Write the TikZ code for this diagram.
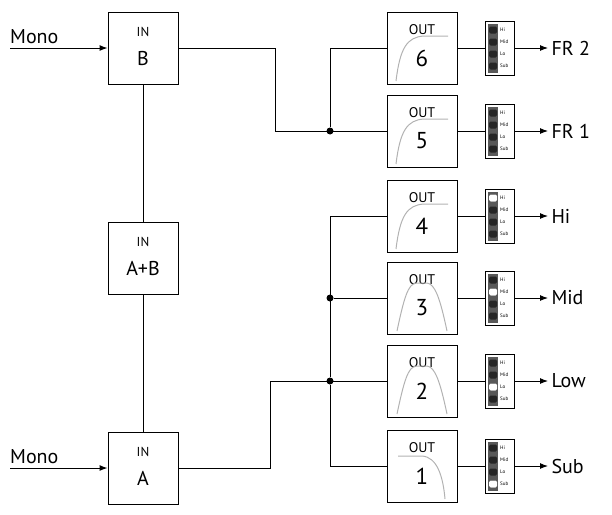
\documentclass[tikz,border=0pt]{standalone}
\usepackage{fontspec}
\setmainfont{PT Sans}
\usetikzlibrary{arrows.meta,calc}
\begin{document}
\begin{tikzpicture}[x=1pt,y=-1pt,
  box/.style={draw,line width=1pt,minimum width=70pt,minimum height=72pt,inner sep=0pt},
  meter/.style={draw,line width=1pt,minimum width=29pt,minimum height=54pt,inner sep=0pt},
  wire/.style={line width=1pt},
  arr/.style={line width=1pt,-{Latex[length=8pt,width=6pt]}},
  curve/.style={draw=gray!60,line width=1pt},
  lbl/.style={font=\fontsize{20}{20}\selectfont},
  dot/.style={circle,fill,inner sep=0pt,minimum size=7pt}]
\useasboundingbox (0,0) rectangle (612,514);
% inputs
\node[box] (B) at (143,48) {};
\node[box] (AB) at (143,258) {};
\node[box] (A) at (143,468) {};
\foreach \n/\t in {B/B,AB/A+B,A/A}{
  \node[font=\fontsize{13}{13}\selectfont] at ($(\n)+(0,-16)$) {IN};
  \node[font=\fontsize{20}{20}\selectfont] at ($(\n)+(0,10)$) {\t};
}
\draw[wire] (B) -- (AB) (AB) -- (A);
\coordinate (mb) at (10,48);
\coordinate (ma) at (10,468);
\draw[arr] (mb) -- (B.west);
\draw[arr] (ma) -- (A.west);
\node[lbl,anchor=south west,inner sep=0pt] at (10,44) {Mono};
\node[lbl,anchor=south west,inner sep=0pt] at (10,464) {Mono};
% outputs
\foreach \i/\y/\o in {6/48/FR 2,5/131/FR 1,4/216/Hi,3/298/Mid,2/381/Low,1/466/Sub}{
  \node[box] (o\i) at (422,\y) {};
  \node[font=\fontsize{14}{14}\selectfont] at ($(o\i)+(0,-18)$) {OUT};
  \node[font=\fontsize{23}{23}\selectfont] at ($(o\i)+(0,10)$) {\i};
  \node[meter] (m\i) at (500,\y) {};
  \coordinate (e\i) at (548,\y);
  \draw[wire] (o\i.east) -- (m\i.west);
  \draw[arr] (m\i.east) -- (e\i);
  \node[lbl,anchor=west] (t\i) at (e\i) {\o};
  \fill[gray!70!black] ($(m\i.north west)+(3,3)$) rectangle ($(m\i.south west)+(13,-3)$);
  \foreach \k/\dy/\lab in {1/-18/Hi,2/-6/Mid,3/6/Lo,4/18/Sub}{
    \fill[black!85,rounded corners=1.5pt] ($(m\i.west)+(4,\dy-3.5)$) rectangle ($(m\i.west)+(12,\dy+3.5)$);
    \node[font=\fontsize{5}{5}\selectfont,anchor=west,inner sep=0pt] at ($(m\i.west)+(15,\dy)$) {\lab};
  }
}
% lit LEDs
\foreach \i/\dy in {4/-18,3/-6,2/6,1/18}{
  \fill[white,rounded corners=1.5pt] ($(m\i.west)+(4,\dy-3.5)$) rectangle ($(m\i.west)+(12,\dy+3.5)$);
}
% filter curves
\foreach \i in {6,5,4}{
  \draw[curve] ($(o\i)+(-26,33)$) .. controls ($(o\i)+(-22,0)$) and ($(o\i)+(-15,-11)$) .. ($(o\i)+(2,-12)$) -- ($(o\i)+(26,-12)$);
}
\foreach \i in {3,2}{
  \draw[curve] ($(o\i)+(-25,33)$) .. controls ($(o\i)+(-18,0)$) and ($(o\i)+(-14,-14)$) .. ($(o\i)+(-6,-15)$) -- ($(o\i)+(5,-15)$) .. controls ($(o\i)+(13,-14)$) and ($(o\i)+(18,0)$) .. ($(o\i)+(25,33)$);
}
\draw[curve] ($(o1)+(-24,-10)$) -- ($(o1)+(0,-10)$) .. controls ($(o1)+(15,-9)$) and ($(o1)+(21,10)$) .. ($(o1)+(23,33)$);
% wiring
\node[dot] (j56) at (330,131) {};
\node[dot] (j3) at (330,298) {};
\node[dot] (j2) at (330,381) {};
\coordinate (b1) at (275,48);
\coordinate (b2) at (275,131);
\draw[wire] (B.east) -- (b1) -- (b2) -- (o5.west);
\draw[wire] (j56) |- (o6.west);
\coordinate (a1) at (270,468);
\coordinate (a2) at (270,381);
\draw[wire] (A.east) -- (a1) -- (a2) -- (o2.west);
\draw[wire] (j2) |- (o1.west);
\draw[wire] (j2) |- (o4.west);
\draw[wire] (j3) -- (o3.west);
\end{tikzpicture}
\end{document}
